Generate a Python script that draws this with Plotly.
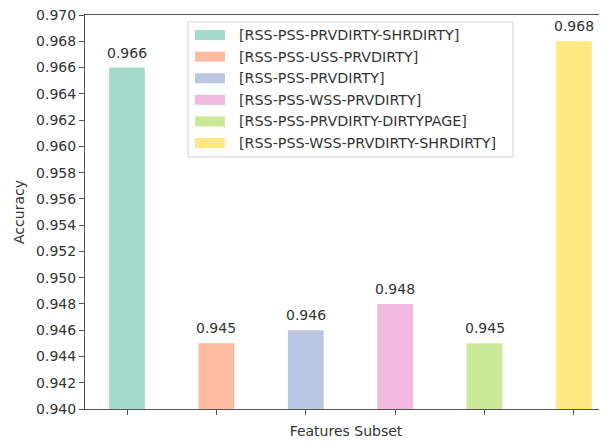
import plotly.graph_objects as go

features = ["[RSS-PSS-PRVDIRTY-SHRDIRTY]", "[RSS-PSS-USS-PRVDIRTY]", "[RSS-PSS-PRVDIRTY]",
            "[RSS-PSS-WSS-PRVDIRTY]", "[RSS-PSS-PRVDIRTY-DIRTYPAGE]", "[RSS-PSS-WSS-PRVDIRTY-SHRDIRTY]"]
accuracy = [0.966, 0.945, 0.946, 0.948, 0.945, 0.968]
# Set2 palette drawn at alpha 0.6 on white
colors = ["#a3dac9", "#fdbba1", "#bbc6e0", "#f1b9db", "#cae898", "#ffe882"]
yticks = [0.940, 0.942, 0.944, 0.946, 0.948, 0.950, 0.952, 0.954, 0.956, 0.958,
          0.960, 0.962, 0.964, 0.966, 0.968, 0.970]

FONT = "DejaVu Sans"
TXT = "#333333"
OFF = 8  # browser body margin

fig = go.Figure()
for i, (name, v, c) in enumerate(zip(features, accuracy, colors)):
    fig.add_trace(go.Bar(x=[i], y=[v], name=name, width=0.4, showlegend=False,
                         marker=dict(color=c, line=dict(width=0))))
    fig.add_annotation(x=i, y=v, text=f"{v:.3f}", showarrow=False, yanchor="middle", yshift=15,
                       font=dict(size=14, color=TXT, family=FONT))

# plot area in figure pixels
L, R, T, B = 85 - OFF, 607 - OFF, 15 - OFF, 409 - OFF
def px(x): return (x - OFF - L) / (R - L)
def py(y): return (B - (y - OFF)) / (B - T)

fig.add_shape(type="rect", xref="paper", yref="paper", x0=px(188), x1=px(513), y0=py(157), y1=py(22),
              line=dict(color="#d0d0d0", width=1), fillcolor="rgba(255,255,255,0.85)", layer="above")
for i, (name, c) in enumerate(zip(features, colors)):
    yc = 35 + 21.6 * i
    fig.add_shape(type="rect", xref="paper", yref="paper", x0=px(195), x1=px(225), y0=py(yc + 5), y1=py(yc - 5),
                  line=dict(width=0), fillcolor=c, layer="above")
    fig.add_annotation(xref="paper", yref="paper", x=px(237), y=py(yc), text=name, showarrow=False,
                       xanchor="left", yanchor="middle", font=dict(size=14.3, color=TXT, family=FONT))

fig.update_layout(
    width=607, height=443, barmode="overlay",
    margin=dict(l=L, r=607 - R, t=T, b=443 - B),
    paper_bgcolor="white", plot_bgcolor="white",
    font=dict(family=FONT, size=14, color=TXT),
    xaxis=dict(range=[-0.47, 5.37], tickvals=list(range(6)), ticktext=[""] * 6, ticks="outside", ticklen=5,
               tickcolor="#555", showline=True, linecolor="#555", mirror=True, showgrid=False, zeroline=False,
               automargin=False, title=dict(text="Features Subset", font=dict(size=14), standoff=9)),
    yaxis=dict(range=[0.9399999, 0.9700001], tickvals=yticks, ticktext=[f"{t:.3f}" for t in yticks],
               ticks="outside", ticklen=5, tickcolor="#555", showline=True, linecolor="#555", mirror=False,
               showgrid=False, zeroline=False, ticklabeloverflow="allow", automargin=False,
               title=dict(text="Accuracy", font=dict(size=14), standoff=8)),
)
fig.write_html("out.html")
